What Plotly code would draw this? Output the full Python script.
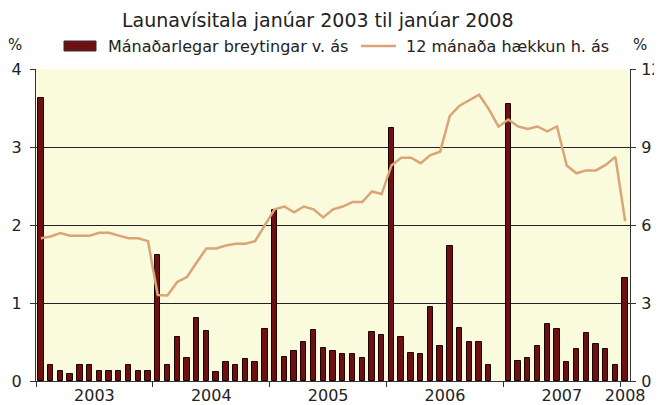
import plotly.graph_objects as go

months = list(range(1, 62))  # Jan 2003 .. Jan 2008
monthly_change = [
    3.63, 0.21, 0.13, 0.085, 0.21, 0.21, 0.13, 0.13, 0.13, 0.21, 0.13, 0.13,
    1.62, 0.21, 0.57, 0.29, 0.81, 0.64, 0.12, 0.24, 0.20, 0.28, 0.24, 0.67,
    2.19, 0.31, 0.38, 0.50, 0.65, 0.42, 0.38, 0.34, 0.34, 0.30, 0.63, 0.59,
    3.25, 0.57, 0.36, 0.35, 0.95, 0.45, 1.73, 0.68, 0.50, 0.50, 0.20, None,
    3.55, 0.26, 0.29, 0.45, 0.73, 0.67, 0.25, 0.41, 0.62, 0.47, 0.41, 0.21,
    1.32,
]
twelve_month = [
    5.49, 5.56, 5.69, 5.59, 5.59, 5.59, 5.70, 5.70, 5.59, 5.49, 5.49, 5.38,
    3.31, 3.29, 3.81, 4.00, 4.56, 5.10, 5.10, 5.21, 5.28, 5.28, 5.38, 6.00,
    6.60, 6.71, 6.49, 6.71, 6.60, 6.29, 6.60, 6.71, 6.88, 6.88, 7.29, 7.19,
    8.29, 8.59, 8.59, 8.38, 8.69, 8.82, 10.20, 10.59, 10.81, 11.01, 10.46, 9.78,
    10.06, 9.79, 9.69, 9.79, 9.60, 9.79, 8.29, 7.99, 8.10, 8.10, 8.31, 8.62,
    6.15,
]
year_labels = ["2003", "2004", "2005", "2006", "2007", "2008"]
year_label_pos = [6.5, 18.5, 30.5, 42.5, 54.5, 61]
year_boundaries = [0.5, 12.5, 24.5, 36.5, 48.5, 60.5]
left_ticks = [0, 1, 2, 3, 4]
right_ticks = [0, 3, 6, 9, 12]

title_text = "Launavísitala janúar 2003 til janúar 2008"
bar_name = "Mánaðarlegar breytingar v. ás"
line_name = "12 mánaða hækkun h. ás"

FONT = "DejaVu Sans, Verdana, sans-serif"
BAR_COLOR = "#6e0f12"
LINE_COLOR = "#dba476"
BG = "#fafadc"

fig = go.Figure()
fig.add_trace(go.Bar(
    x=months, y=monthly_change, name=bar_name,
    marker=dict(color=BAR_COLOR, line=dict(color="#1a0000", width=1)),
    width=0.55, yaxis="y", showlegend=False,
))
fig.add_trace(go.Scatter(
    x=months, y=twelve_month, name=line_name, mode="lines",
    line=dict(color=LINE_COLOR, width=2.5), yaxis="y2", showlegend=False,
))

# The page body adds an 8px offset; design in on-screen pixels.
OFF = 8
W, H = 662, 405
SL, SR, ST, SB = 36, 630, 69, 381   # on-screen plot area edges
pw, ph = SR - SL, SB - ST
L, T = SL - OFF, ST - OFF
R = W - (SR - OFF)
B = H - (SB - OFF)

def px(x):
    return (x - SL) / pw

def py(y):
    return (SB - y) / ph

fig.update_layout(
    width=W, height=H,
    margin=dict(l=L, r=R, t=T, b=B, autoexpand=False),
    paper_bgcolor="white", plot_bgcolor=BG,
    font=dict(family=FONT, size=16, color="#222"),
    bargap=0,
    xaxis=dict(
        range=[0.5, 61.5], tickmode="array", tickvals=year_label_pos,
        ticktext=year_labels, ticks="", showgrid=False, zeroline=False,
        showline=True, linecolor="#333", linewidth=1, automargin=False,
        ticklabelstandoff=0,
        tickfont=dict(size=16, family=FONT),
        minor=dict(tickmode="array", tickvals=year_boundaries, ticks="outside",
                   ticklen=5, tickcolor="#333", showgrid=False),
    ),
    yaxis=dict(
        range=[0, 4], tickmode="array", tickvals=left_ticks,
        ticks="outside", ticklen=5, tickcolor="#333", automargin=False,
        ticklabelstandoff=5,
        showgrid=True, gridcolor="#222", gridwidth=1, zeroline=False,
        showline=True, linecolor="#333", linewidth=1,
        tickfont=dict(size=16, family=FONT),
    ),
    yaxis2=dict(
        range=[0, 12], tickmode="array", tickvals=right_ticks,
        overlaying="y", side="right", automargin=False,
        ticks="outside", ticklen=5, tickcolor="#333",
        ticklabelstandoff=2,
        showgrid=False, zeroline=False,
        showline=True, linecolor="#333", linewidth=1,
        tickfont=dict(size=16, family=FONT),
    ),
)

annotations = [
    dict(text=title_text, x=px(318), y=py(20), xref="paper", yref="paper",
         showarrow=False, font=dict(size=19, family=FONT, color="#222"),
         xanchor="center", yanchor="middle"),
    dict(text="%", x=px(15), y=py(45), xref="paper", yref="paper",
         showarrow=False, font=dict(size=15, family=FONT, color="#222"),
         xanchor="center", yanchor="middle"),
    dict(text="%", x=px(640), y=py(45), xref="paper", yref="paper",
         showarrow=False, font=dict(size=15, family=FONT, color="#222"),
         xanchor="center", yanchor="middle"),
    dict(text=bar_name, x=px(106), y=py(46), xref="paper", yref="paper",
         showarrow=False, font=dict(size=16, family=FONT, color="#222"),
         xanchor="left", yanchor="middle"),
    dict(text=line_name, x=px(404), y=py(46), xref="paper", yref="paper",
         showarrow=False, font=dict(size=16, family=FONT, color="#222"),
         xanchor="left", yanchor="middle"),
]
shapes = [
    dict(type="rect", xref="paper", yref="paper",
         x0=px(64), x1=px(96), y0=py(51), y1=py(41),
         fillcolor=BAR_COLOR, line=dict(color="#333", width=1)),
    dict(type="line", xref="paper", yref="paper",
         x0=px(361), x1=px(396), y0=py(46), y1=py(46),
         line=dict(color=LINE_COLOR, width=2.5)),
]
fig.update_layout(annotations=annotations, shapes=shapes)

fig.write_html("out.html")
